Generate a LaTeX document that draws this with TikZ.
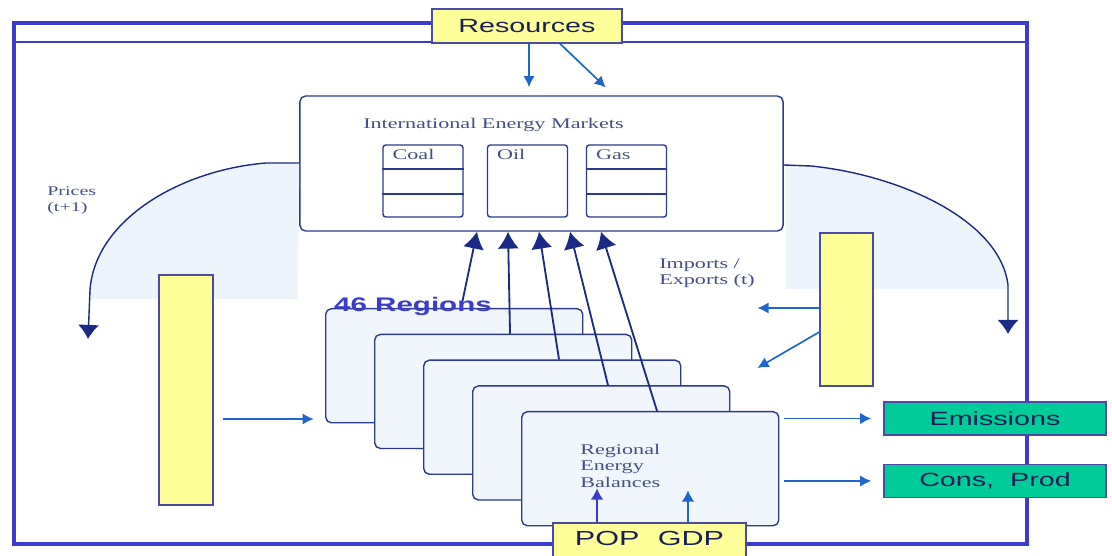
\documentclass[tikz,border=0pt]{standalone}
\usepackage{fontspec}
\usepackage{xcolor}
\usepackage{tikz}
\usetikzlibrary{shapes, arrows, arrows.meta}

\newfontfamily\boxfont[FakeStretch=1.5]{Liberation Sans}
\newfontfamily\notefont[FakeStretch=1.5]{Liberation Serif}

\definecolor{frameBlue}{HTML}{3B3BCC}
\definecolor{boxNavy}{HTML}{2B3A8F}
\definecolor{edgeBlue}{HTML}{4A4AA8}
\definecolor{arrowBlue}{HTML}{1F66CC}
\definecolor{headNavy}{HTML}{1A2A85}
\definecolor{paleYellow}{HTML}{FFFF99}
\definecolor{seaGreen}{HTML}{00CC99}
\definecolor{paleBlue}{HTML}{EEF4FB}
\definecolor{regionFill}{HTML}{F1F6FC}
\definecolor{textNavy}{HTML}{1A1F55}
\definecolor{noteGrey}{HTML}{435088}

\begin{document}
\begin{tikzpicture}[
    x=0.025cm, y=-0.025cm,
    bigText/.style={font=\boxfont\fontsize{13.6}{15}\selectfont, text=textNavy},
    noteText/.style={font=\notefont\fontsize{10.5}{11.6}\selectfont, text=noteGrey, align=left, inner sep=0pt},
    yellowBox/.style={draw=edgeBlue, fill=paleYellow, line width=0.9pt},
    greenBox/.style={draw=edgeBlue, fill=seaGreen, line width=0.9pt, minimum width=5.55cm, minimum height=0.825cm, bigText},
    marketWidth/.style={minimum width=2cm},
    marketHeight/.style={minimum height=1.8cm},
    marketBox/.style={draw=boxNavy, line width=1pt, rounded corners=2pt, marketWidth, marketHeight},
    regionBox/.style={draw=boxNavy, fill=regionFill, line width=1pt, rounded corners=4pt, minimum width=6.425cm, minimum height=2.85cm, anchor=north west},
    blueArrow/.style={->, >={Latex[length=8pt, width=8pt]}, draw=arrowBlue, line width=1.2pt},
    upArrow/.style={->, >={Latex[length=12pt, width=15pt]}, draw=headNavy, line width=1.3pt},
    priceArrow/.style={->, >={Latex[length=10pt, width=15pt]}, draw=headNavy, line width=1pt},
    every node/.style={
        text centered,
        }
        ]
    \useasboundingbox (0,0) rectangle (1112,556);

    \draw[frameBlue, line width=2.8pt] (14,23) rectangle (1027,544);
    \draw[frameBlue, line width=1pt] (14,42) -- (1027,42);

    \node[yellowBox, bigText, minimum width=4.75cm, minimum height=0.85cm] (resources) at (527,26) {Resources};

    \node[draw=boxNavy, line width=1pt, rounded corners=4pt, minimum width=12.075cm, minimum height=3.375cm] (iem) at (541.5,163.5) {};

    \fill[paleBlue] (iem.west |- 0,163) -- (266,163) .. controls (180,170) and (95,220) .. (90,290) -- (90,299) -- (298,299) -- cycle;
    \fill[paleBlue] (786,165) -- (811,166) .. controls (900,175) and (1000,220) .. (1008,285) -- (1008,289) -- (786,289) -- cycle;
    \draw[priceArrow] (iem.west |- 0,163) -- (266,163) .. controls (180,170) and (95,220) .. (90,290) -- (88,339);
    \draw[priceArrow] (iem.east |- 0,165) -- (811,166) .. controls (900,175) and (1000,220) .. (1008,285) -- (1008,334);

    \node[noteText, anchor=west] (iemTitle) at (363,125) {International Energy Markets};
    \node[marketBox] (coal) at (423,181) {};
    \node[marketBox] (oil) at (527.5,181) {};
    \node[marketBox] (gas) at (626.5,181) {};
    \foreach \m/\t in {coal/Coal, oil/Oil, gas/Gas} {
        \node[noteText, anchor=north west, xshift=0.25cm, yshift=-0.12cm] (\m Label) at (\m.north west) {\t};
    }
    \foreach \m in {coal, gas} {
        \draw[boxNavy, line width=1pt] (\m.west |- 0,169) -- (\m.east |- 0,169);
        \draw[boxNavy, line width=1pt] (\m.west |- 0,194) -- (\m.east |- 0,194);
    }

    \draw[blueArrow, shorten >=5.7pt] (resources.south -| 529,0) -- (iem.north -| 529,0);
    \draw[blueArrow, shorten >=8pt] (resources.south -| 560,0) -- (iem.north -| 614,0);

    \node[noteText, anchor=north west, font=\notefont\fontsize{9.5}{11.4}\selectfont] (prices) at (47,186) {Prices\\(t+1)};
    \node[noteText, anchor=north west] (trade) at (659,258) {Imports /\\Exports (t)};

    \node[yellowBox, minimum width=1.35cm, minimum height=5.75cm] (leftBar) at (186,390) {};
    \node[yellowBox, minimum width=1.325cm, minimum height=3.825cm] (rightBar) at (846.5,309.5) {};

    \foreach \i in {0,...,4} {
        \node[regionBox] (reg\i) at (325+49*\i, 308+25.75*\i) {};
    }
    \foreach \i in {0,...,4} {
        \draw[upArrow] ([xshift=3.4cm]reg\i.north west) -- (iem.south -| 477+31*\i,0);
    }
    \node[font=\boxfont\bfseries\fontsize{14}{15}\selectfont, text=frameBlue, inner sep=0pt] (regions) at (413,306) {46 Regions};
    \node[noteText, anchor=north west] (balances) at (580,444) {Regional\\Energy\\Balances};

    \draw[blueArrow, shorten <=7pt, shorten >=8pt] (leftBar.east |- 0,419) -- (reg0.west |- 0,419);
    \draw[blueArrow] (rightBar.west |- 0,308) -- ++(-62,0);
    \draw[blueArrow] (rightBar.west |- 0,332) -- ++(-62,36);

    \node[greenBox] (emissions) at (995,418.5) {Emissions};
    \node[greenBox] (consprod) at (995,481) {Cons,\ \ Prod};
    \draw[blueArrow, shorten <=3pt, shorten >=8.5pt] (reg4.east |- emissions.west) -- (emissions.west);
    \draw[blueArrow, shorten <=3pt, shorten >=8.5pt] (reg4.east |- consprod.west) -- (consprod.west);

    \node[yellowBox, bigText, font=\boxfont\fontsize{14.5}{16}\selectfont, minimum width=4.825cm, minimum height=1cm, text depth=0.22cm] (popgdp) at (649.5,543) {POP\hspace{13pt}GDP};
    \draw[upArrow, >={Latex[length=8pt, width=9pt]}, line width=1pt, draw=frameBlue] (popgdp.north -| 597,0) -- ++(0,-34);
    \draw[blueArrow, >={Latex[length=8pt, width=9pt]}] (popgdp.north -| 688,0) -- ++(0,-32);
\end{tikzpicture}
\end{document}
